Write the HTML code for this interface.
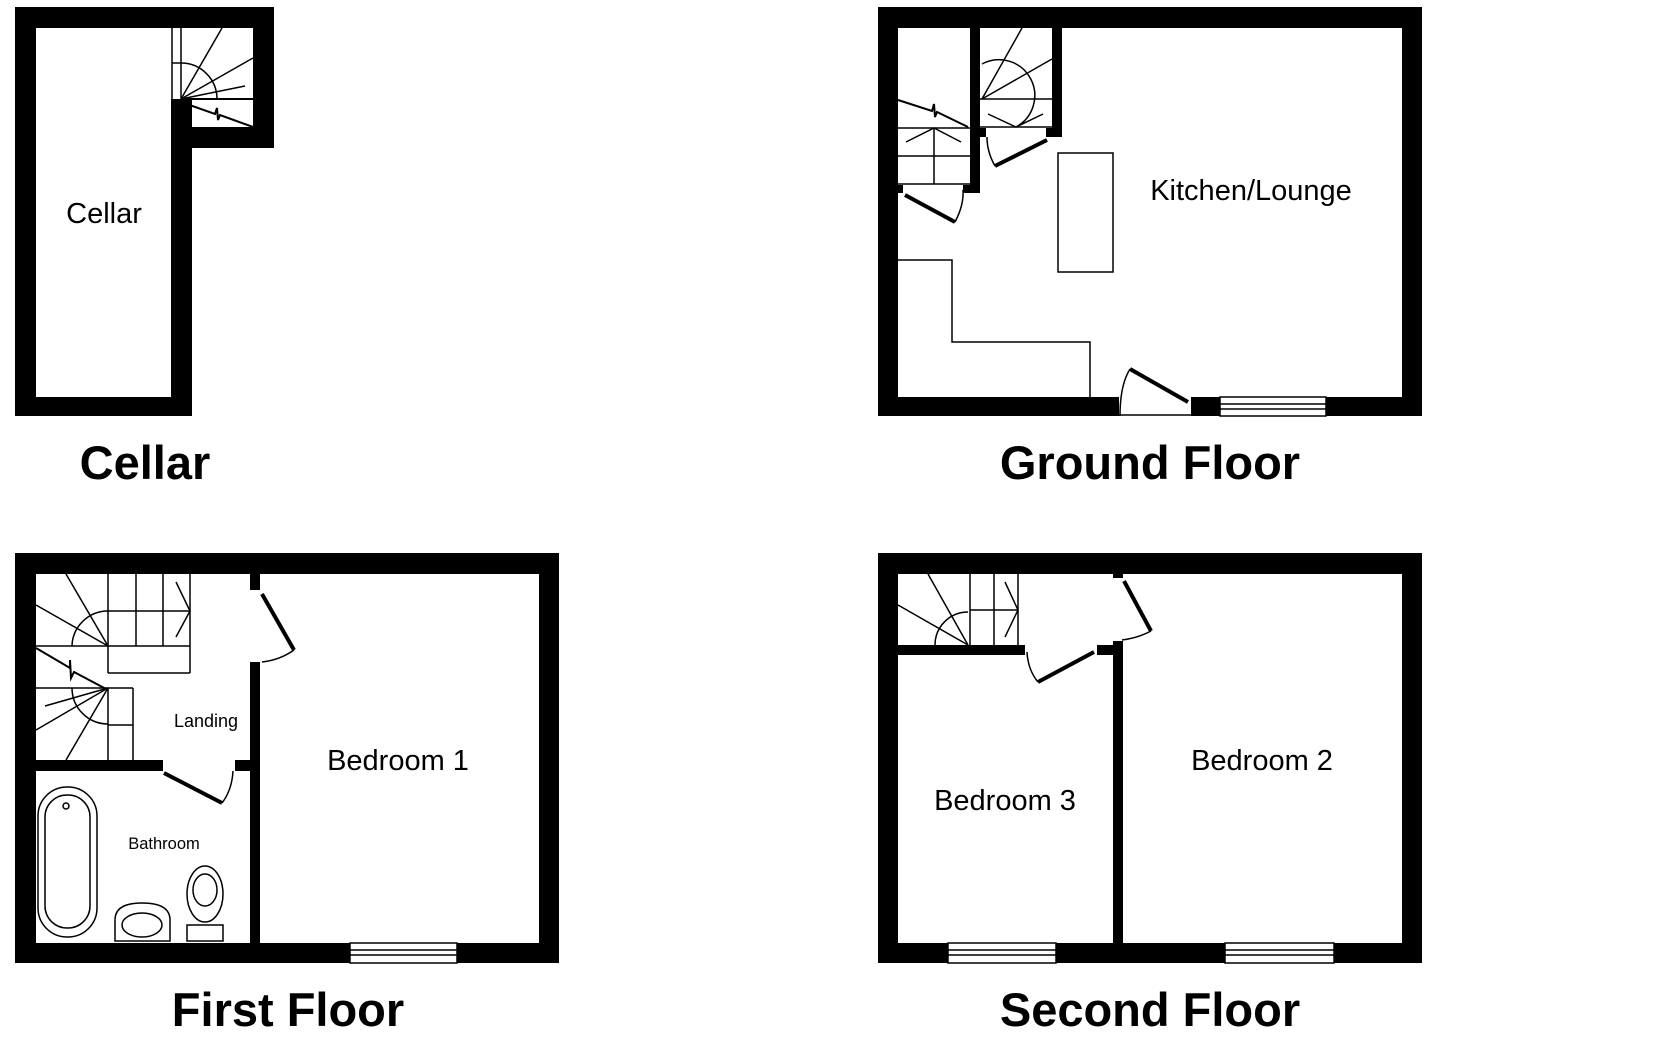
<!DOCTYPE html>
<html><head><meta charset="utf-8"><style>
html,body{margin:0;padding:0;background:#fff;}
svg{display:block;}
text{font-family:"Liberation Sans",sans-serif;fill:#000;}
</style></head><body>
<svg width="1672" height="1039" viewBox="0 0 1672 1039" xmlns="http://www.w3.org/2000/svg">
<rect width="1672" height="1039" fill="#fff"/>
<!-- ================= CELLAR ================= -->
<g fill="#000">
<rect x="15" y="7" width="259" height="21"/>
<rect x="15" y="7" width="21" height="409"/>
<rect x="15" y="397" width="177" height="19"/>
<rect x="253" y="7" width="21" height="141"/>
<rect x="181" y="127" width="93" height="21"/>
<rect x="171" y="99" width="21" height="317"/>
</g>
<g stroke="#000" stroke-width="1.5" fill="none">
<line x1="172" y1="28" x2="172" y2="99"/>
<line x1="181" y1="28" x2="181" y2="99"/>
<line x1="172" y1="63" x2="181" y2="63"/>
<path d="M181 63 A36 36 0 0 1 217 99"/>
<line x1="181" y1="99" x2="222" y2="28"/>
<line x1="181" y1="99" x2="253" y2="58"/>
<line x1="181" y1="99" x2="245" y2="86"/>
<line x1="181" y1="99" x2="253" y2="99" stroke-width="2"/>
<path d="M181 102 L215 114 L217 108 L218 120 L220 115 L253 127" stroke-width="2"/>
</g>
<text x="104" y="223" font-size="29" text-anchor="middle">Cellar</text>
<text x="145" y="479" font-size="47" font-weight="bold" text-anchor="middle">Cellar</text>

<!-- ================= GROUND FLOOR ================= -->
<g fill="#000">
<rect x="878" y="7" width="544" height="21"/>
<rect x="878" y="7" width="20" height="409"/>
<rect x="1402" y="7" width="20" height="409"/>
<rect x="878" y="397" width="241" height="19"/>
<rect x="1191" y="397" width="231" height="19"/>
<rect x="970" y="28" width="10" height="165"/>
<rect x="1052" y="28" width="10" height="109"/>
<rect x="980" y="128" width="6" height="9"/>
<rect x="1046" y="128" width="6" height="9"/>
<rect x="898" y="185" width="5" height="8"/>
<rect x="963" y="185" width="7" height="8"/>
</g>
<g stroke="#000" stroke-width="1.5" fill="none">
<path d="M898 100 L932 111 L934 104 L935 117 L937 112 L968 127" stroke-width="2"/>
<line x1="898" y1="128" x2="970" y2="128"/>
<line x1="898" y1="156" x2="970" y2="156"/>
<line x1="898" y1="184" x2="970" y2="184"/>
<line x1="934" y1="128" x2="934" y2="184"/>
<polyline points="906,142 934,128 961,142"/>
<path d="M982 64 A35 35 0 0 1 1016 127"/>
<line x1="982" y1="99" x2="1022" y2="28"/>
<line x1="982" y1="99" x2="1052" y2="59"/>
<line x1="980" y1="99" x2="1052" y2="99"/>
<line x1="980" y1="127" x2="1052" y2="127"/>
<polyline points="988,114 1016,127 1043,114"/>
<line x1="905" y1="195" x2="955" y2="222" stroke-width="4"/>
<path d="M955 222 Q964 205 963 190"/>
<line x1="995" y1="166" x2="1047" y2="140" stroke-width="4"/>
<path d="M995 166 Q987 152 987 137"/>
<rect x="1058" y="153" width="55" height="119"/>
<polyline points="898,260 952,260 952,342 1090,342 1090,397"/>
<line x1="1130" y1="369" x2="1188" y2="402" stroke-width="4"/>
<path d="M1130 369 Q1120 385 1120 416"/>
<line x1="1119" y1="415" x2="1191" y2="415"/>
<rect x="1220" y="397" width="106" height="19" fill="#fff"/>
<line x1="1220" y1="404" x2="1326" y2="404"/>
<line x1="1220" y1="409" x2="1326" y2="409"/>
</g>
<text x="1251" y="200" font-size="29" text-anchor="middle">Kitchen/Lounge</text>
<text x="1150" y="479" font-size="47" font-weight="bold" text-anchor="middle">Ground Floor</text>

<!-- ================= FIRST FLOOR ================= -->
<g fill="#000">
<rect x="15" y="553" width="544" height="21"/>
<rect x="15" y="553" width="21" height="410"/>
<rect x="539" y="553" width="20" height="410"/>
<rect x="15" y="943" width="544" height="20"/>
<rect x="250" y="574" width="10" height="16"/>
<rect x="250" y="662" width="10" height="281"/>
<rect x="36" y="760" width="127" height="11"/>
<rect x="235" y="760" width="15" height="11"/>
</g>
<g stroke="#000" stroke-width="1.5" fill="none">
<line x1="108" y1="574" x2="108" y2="673"/>
<line x1="136" y1="574" x2="136" y2="646"/>
<line x1="163" y1="574" x2="163" y2="646"/>
<line x1="190" y1="574" x2="190" y2="673"/>
<line x1="108" y1="611" x2="190" y2="611"/>
<line x1="36" y1="646" x2="190" y2="646"/>
<line x1="108" y1="673" x2="190" y2="673"/>
<polyline points="176,582 190,611 176,637"/>
<line x1="66" y1="574" x2="108" y2="646"/>
<line x1="36" y1="605" x2="108" y2="646"/>
<path d="M108 611 A36 36 0 0 0 72 646"/>
<path d="M36 648 L70 668 L70 660 L71 678 L74 672 L108 690" stroke-width="2"/>
<line x1="36" y1="688" x2="133" y2="688"/>
<line x1="108" y1="688" x2="108" y2="760"/>
<line x1="133" y1="688" x2="133" y2="760"/>
<line x1="108" y1="725" x2="133" y2="725"/>
<line x1="108" y1="688" x2="36" y2="730"/>
<line x1="108" y1="688" x2="66" y2="760"/>
<line x1="108" y1="688" x2="45" y2="706"/>
<path d="M72 688 A36 36 0 0 0 108 724"/>
<line x1="262" y1="594" x2="294" y2="650" stroke-width="4"/>
<path d="M294 650 Q280 660 262 662"/>
<line x1="164" y1="773" x2="222" y2="803" stroke-width="4"/>
<path d="M222 803 Q232 790 233 771"/>
<rect x="38" y="787" width="59" height="150" rx="29"/>
<rect x="45" y="795" width="45" height="133" rx="22"/>
<circle cx="66" cy="806" r="3"/>
<path d="M115 941 L115 920 Q115 903 142 903 Q170 903 170 920 L170 941 Z"/>
<ellipse cx="142" cy="925" rx="20" ry="12"/>
<ellipse cx="205" cy="894" rx="18" ry="28"/>
<ellipse cx="205" cy="890" rx="12" ry="16"/>
<rect x="187" y="925" width="36" height="16"/>
<rect x="350" y="943" width="107" height="20" fill="#fff"/>
<line x1="350" y1="950" x2="457" y2="950"/>
<line x1="350" y1="955" x2="457" y2="955"/>
</g>
<text x="206" y="727" font-size="18" text-anchor="middle">Landing</text>
<text x="164" y="849" font-size="16.5" text-anchor="middle">Bathroom</text>
<text x="398" y="770" font-size="29" text-anchor="middle">Bedroom 1</text>
<text x="288" y="1026" font-size="47" font-weight="bold" text-anchor="middle">First Floor</text>

<!-- ================= SECOND FLOOR ================= -->
<g fill="#000">
<rect x="878" y="553" width="544" height="21"/>
<rect x="878" y="553" width="20" height="410"/>
<rect x="1402" y="553" width="20" height="410"/>
<rect x="878" y="943" width="544" height="20"/>
<rect x="898" y="645" width="127" height="10"/>
<rect x="1097" y="645" width="25" height="10"/>
<rect x="1113" y="641" width="10" height="302"/>
<rect x="1113" y="574" width="10" height="4"/>
</g>
<g stroke="#000" stroke-width="1.5" fill="none">
<line x1="928" y1="574" x2="968" y2="645"/>
<line x1="898" y1="605" x2="968" y2="645"/>
<line x1="970" y1="574" x2="970" y2="645"/>
<line x1="994" y1="574" x2="994" y2="645"/>
<line x1="1018" y1="574" x2="1018" y2="645"/>
<line x1="970" y1="610" x2="1018" y2="610"/>
<path d="M968 612 A33 33 0 0 0 935 645"/>
<polyline points="1005,582 1018,610 1005,637"/>
<line x1="1038" y1="682" x2="1094" y2="652" stroke-width="4"/>
<path d="M1038 682 Q1028 670 1027 652"/>
<line x1="1124" y1="581" x2="1151" y2="631" stroke-width="4"/>
<path d="M1151 631 Q1138 638 1122 640"/>
<rect x="948" y="943" width="108" height="20" fill="#fff"/>
<line x1="948" y1="950" x2="1056" y2="950"/>
<line x1="948" y1="955" x2="1056" y2="955"/>
<rect x="1225" y="943" width="109" height="20" fill="#fff"/>
<line x1="1225" y1="950" x2="1334" y2="950"/>
<line x1="1225" y1="955" x2="1334" y2="955"/>
</g>
<text x="1262" y="770" font-size="29" text-anchor="middle">Bedroom 2</text>
<text x="1005" y="810" font-size="29" text-anchor="middle">Bedroom 3</text>
<text x="1150" y="1026" font-size="47" font-weight="bold" text-anchor="middle">Second Floor</text>
</svg>
</body></html>
